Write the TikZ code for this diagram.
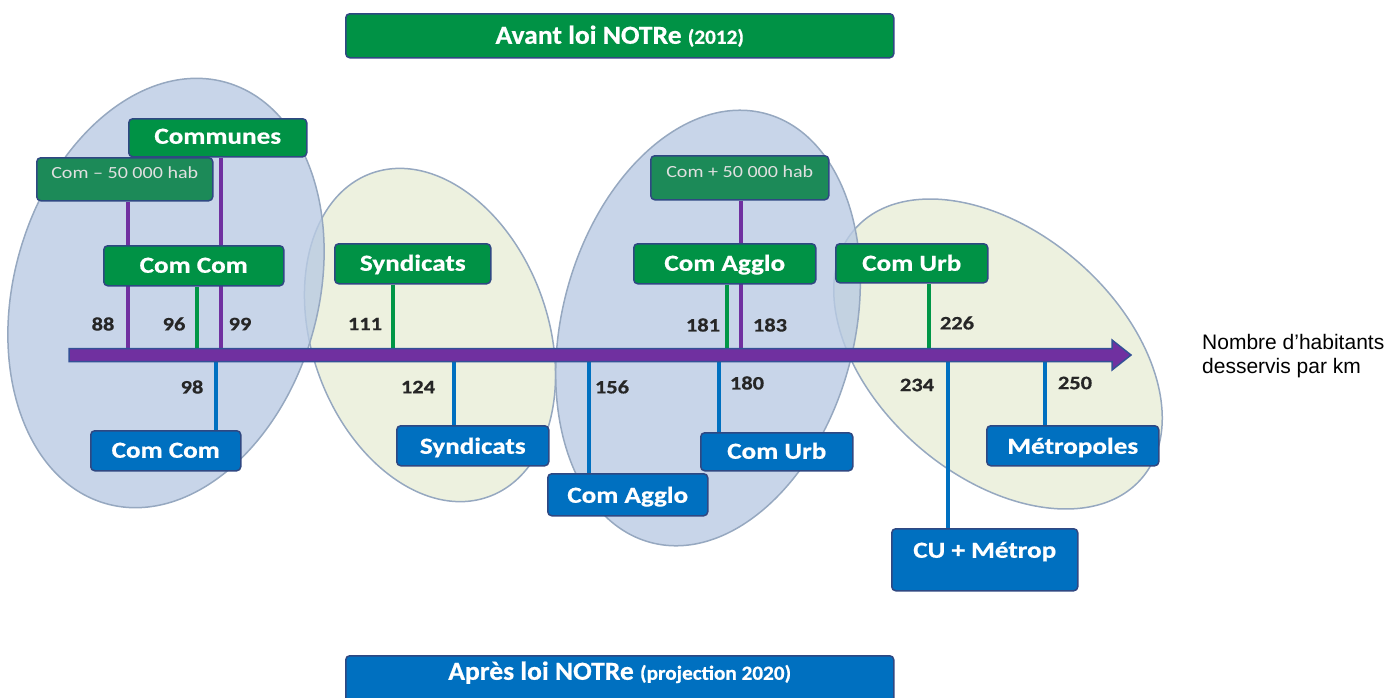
\documentclass[tikz,border=0pt]{standalone}
\usepackage{fontspec}
\setmainfont{Carlito}[FakeStretch=1.18, BoldFeatures={FakeBold=0.6}]
\newfontfamily\titrefont{Carlito}[FakeStretch=1.06, BoldFeatures={FakeBold=0.6}]
\newfontfamily\legendefont{Liberation Sans}
\definecolor{vertavant}{RGB}{0,146,69}
\definecolor{vertclair}{RGB}{28,138,88}
\definecolor{bleuapres}{RGB}{0,112,192}
\definecolor{cadrebord}{RGB}{47,72,130}
\definecolor{violetaxe}{RGB}{112,48,160}
\definecolor{bordaxe}{RGB}{52,80,150}
\definecolor{tigeverte}{RGB}{0,150,70}
\definecolor{tigebleue}{RGB}{0,112,192}
\definecolor{chiffregris}{RGB}{38,38,38}
\definecolor{bullebleue}{RGB}{186,203,227}
\definecolor{bullejaune}{RGB}{232,238,215}
\definecolor{bullebord}{RGB}{150,168,192}
\pgfdeclarelayer{fond}
\pgfsetlayers{fond,main}
\tikzset{
  cadre/.style={draw=cadrebord, line width=1.5pt, rounded corners=4pt, text=white, inner sep=0pt, anchor=north west, font=\bfseries\fontsize{23}{26}\selectfont},
  dims/.style n args={3}{minimum width=#1pt, text height=#2pt, text depth=#3pt},
  avant/.style={cadre, fill=vertavant},
  apres/.style={cadre, fill=bleuapres},
  seuil/.style={cadre, fill=vertclair, text=white!88!black, font=\fontsize{17}{20}\selectfont},
  chiffre/.style={text=chiffregris, inner sep=0pt, font=\bfseries\fontsize{19}{22}\selectfont},
  tige/.style={line width=4pt},
  bulle/.style={draw=bullebord, line width=1.5pt, fill opacity=0.8},
}
\begin{document}
\begin{tikzpicture}[x=1pt, y=1pt]
\useasboundingbox (0,0) rectangle (1389,-697);
% bandeaux
\node[avant, dims={548}{30}{14}, font=\titrefont\bfseries\fontsize{26}{28}\selectfont] (avant) at (345,-13) {Avant loi NOTRe {\fontsize{20}{22}\selectfont(2012)}};
\node[apres, dims={548}{24}{31}, font=\titrefont\bfseries\fontsize{26}{28}\selectfont] (apres) at (345,-655) {Après loi NOTRe {\fontsize{20}{22}\selectfont(projection 2020)}};
% avant
\node[avant, dims={178}{25}{13}] (communes) at (128,-118) {Communes};
\node[seuil, dims={176}{21}{22}] (moins) at (36,-157) {Com – 50 000 hab};
\node[avant, dims={180}{27}{13}] (comcomA) at (103,-245) {Com Com};
\node[avant, dims={156}{27}{13}] (syndA) at (334,-243) {Syndicats};
\node[seuil, dims={178}{22}{22}] (plus) at (650,-155) {Com + 50 000 hab};
\node[avant, dims={182}{27}{13}] (aggloA) at (633,-243) {Com Agglo};
\node[avant, dims={152}{27}{12}] (urbA) at (835,-243) {Com Urb};
% apres
\node[apres, dims={150}{27}{13}] (comcomB) at (90,-430) {Com Com};
\node[apres, dims={152}{28}{12}] (syndB) at (396,-425) {Syndicats};
\node[apres, dims={160}{29}{13}] (aggloB) at (547,-473) {Com Agglo};
\node[apres, dims={152}{26}{12}] (urbB) at (700,-432) {Com Urb};
\node[apres, dims={172}{28}{12}] (metroB) at (986,-425) {Métropoles};
\node[apres, dims={186}{29}{33}] (cuB) at (891,-528) {CU + Métrop};
% chiffres
\node[chiffre] (n88) at (103,-324) {88};
\node[chiffre] (n96) at (174,-324) {96};
\node[chiffre] (n99) at (240,-324) {99};
\node[chiffre] (n111) at (365,-324) {111};
\node[chiffre] (n181) at (703,-325) {181};
\node[chiffre] (n183) at (770,-325) {183};
\node[chiffre] (n226) at (957,-323) {226};
\node[chiffre] (n98) at (192,-387) {98};
\node[chiffre] (n124) at (418,-387) {124};
\node[chiffre] (n156) at (612,-387) {156};
\node[chiffre] (n180) at (747,-383) {180};
\node[chiffre] (n234) at (917,-385) {234};
\node[chiffre] (n250) at (1075,-383) {250};
\node[anchor=west, align=left, inner sep=0pt, font=\legendefont\fontsize{21}{24}\selectfont] (legende) at (1202,-356) {Nombre d’habitants\\desservis par km};
% points sur l'axe
\coordinate (t88) at (128,-355);
\coordinate (t96) at (197,-355);
\coordinate (t99) at (221,-355);
\coordinate (t111) at (393,-355);
\coordinate (t181) at (727,-355);
\coordinate (t183) at (741,-355);
\coordinate (t226) at (929,-355);
\coordinate (t98) at (216,-355);
\coordinate (t124) at (454,-355);
\coordinate (t156) at (589,-355);
\coordinate (t180) at (719,-355);
\coordinate (t234) at (948,-355);
\coordinate (t250) at (1045,-355);
\begin{pgfonlayer}{fond}
\draw[bulle, fill=bullejaune, rotate around={20:(430,-335)}] (430,-335) ellipse (118 and 172);
\draw[bulle, fill=bullejaune, rotate around={-41:(998,-354)}] (998,-354) ellipse (190 and 122);
\draw[bulle, fill=bullebleue, rotate around={-16:(166,-293)}] (166,-293) ellipse (152 and 219);
\draw[bulle, fill=bullebleue, rotate around={-15:(708,-328)}] (708,-328) ellipse (146 and 222);
\draw[tige, violetaxe] (moins.south -| t88) -- (t88);
\draw[tige, tigeverte] (comcomA.south -| t96) -- (t96);
\draw[tige, violetaxe] (communes.south -| t99) -- (t99);
\draw[tige, tigeverte] (syndA.south -| t111) -- (t111);
\draw[tige, tigeverte] (aggloA.south -| t181) -- (t181);
\draw[tige, violetaxe] (plus.south -| t183) -- (t183);
\draw[tige, tigeverte] (urbA.south -| t226) -- (t226);
\draw[tige, tigebleue] (t98) -- (comcomB.north -| t98);
\draw[tige, tigebleue] (t124) -- (syndB.north -| t124);
\draw[tige, tigebleue] (t156) -- (aggloB.north -| t156);
\draw[tige, tigebleue] (t180) -- (urbB.north -| t180);
\draw[tige, tigebleue] (t234) -- (cuB.north -| t234);
\draw[tige, tigebleue] (t250) -- (metroB.north -| t250);
% axe
\draw[fill=violetaxe, draw=bordaxe, line width=1.5pt] (69,-348.5) -- (1112,-348.5) -- (1112,-340) -- (1131,-355) -- (1112,-370) -- (1112,-361.5) -- (69,-361.5) -- cycle;
\end{pgfonlayer}
\end{tikzpicture}
\end{document}
